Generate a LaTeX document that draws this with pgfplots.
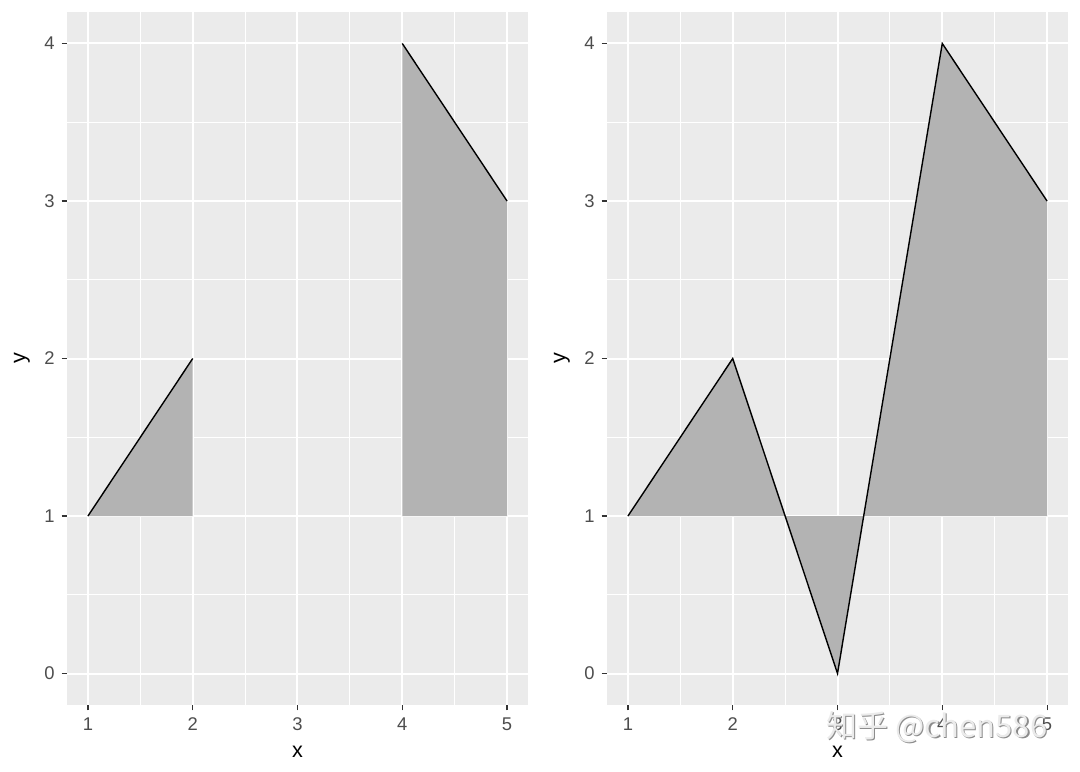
\documentclass[border=0pt]{standalone}
\usepackage{pgfplots}
\pgfplotsset{compat=1.18}
\usepackage{fontspec}
\setmainfont{Liberation Sans}
\newfontfamily\cjk{Noto Sans CJK SC}
\definecolor{panelbg}{HTML}{EBEBEB}
\definecolor{ribbon}{HTML}{B3B3B3}
\definecolor{gray30}{HTML}{4D4D4D}
\definecolor{gray20}{HTML}{333333}
\pgfplotsset{
  gg/.style={
    anchor=south west, scale only axis,
    width=230.5pt, height=346.5pt,
    xmin=0.8, xmax=5.2, ymin=-0.2, ymax=4.2,
    axis background/.style={fill=panelbg},
    axis line style={draw=none},
    xtick={1,2,3,4,5}, ytick={0,1,2,3,4},
    minor xtick={1.5,2.5,3.5,4.5}, minor ytick={0.5,1.5,2.5,3.5},
    grid=both,
    major grid style={white, line width=1pt},
    minor grid style={white, line width=0.5pt},
    tick align=outside,
    major tick length=2.7pt, minor tick length=0pt,
    major tick style={gray20, line width=0.55pt},
    xtick pos=bottom, ytick pos=left,
    /pgf/number format/assume math mode=true,
    ticklabel style={font=\fontsize{9.2}{11}\selectfont, text=gray30},
    xticklabel style={yshift=0pt},
    yticklabel style={xshift=0pt},
    label style={font=\fontsize{10.8}{12}\selectfont, text=black},
    xlabel={x}, ylabel={y},
    xlabel style={at={(axis description cs:0.5,-0.068)}, anchor=center},
    ylabel style={at={(axis description cs:-0.098,0.5)}, anchor=center, rotate=0},
    clip=true,
  }
}
\begin{document}
\begin{tikzpicture}
\path[use as bounding box] (0,0) rectangle (540pt,385.5pt);
% left panel
\begin{axis}[gg, at={(33.5pt,33pt)}]
  \addplot[fill=ribbon, draw=none] coordinates {(1,1) (2,2) (2,1) (1,1)};
  \addplot[fill=ribbon, draw=none] coordinates {(4,1) (4,4) (5,3) (5,1) (4,1)};
  \addplot[black, line width=0.7pt] coordinates {(1,1) (2,2)};
  \addplot[black, line width=0.7pt] coordinates {(4,4) (5,3)};
\end{axis}
% right panel
\begin{axis}[gg, at={(303.5pt,33pt)}]
  \addplot[fill=ribbon, draw=none] coordinates {(1,1) (2,2) (3,0) (4,4) (5,3) (5,1) (1,1)};
  \addplot[black, line width=0.7pt] coordinates {(1,1) (2,2) (3,0) (4,4) (5,3)};
\end{axis}
% watermark
\node[text=black!45, font=\cjk\fontsize{15.5}{18}\selectfont] at (469.1pt,21.4pt) {知乎 @chen586};
\node[text=black!8, font=\cjk\fontsize{15.5}{18}\selectfont] at (468.5pt,22pt) {知乎 @chen586};
\end{tikzpicture}
\end{document}
